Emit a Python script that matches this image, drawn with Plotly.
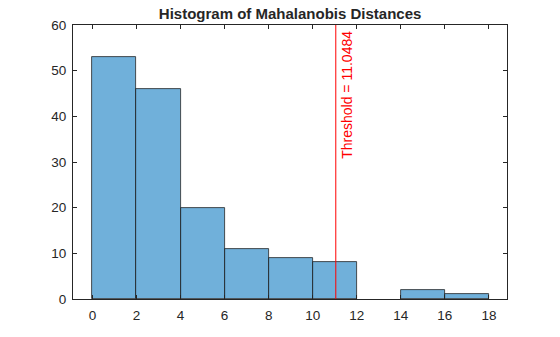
import plotly.graph_objects as go

bin_edges = [0, 2, 4, 6, 8, 10, 12, 14, 16, 18]
counts = [53, 46, 20, 11, 9, 8, 0, 2, 1]
threshold = 11.0484
title = "Histogram of Mahalanobis Distances"
x_ticks = [0, 2, 4, 6, 8, 10, 12, 14, 16, 18]
y_ticks = [0, 10, 20, 30, 40, 50, 60]

centers = [(bin_edges[i] + bin_edges[i + 1]) / 2 for i in range(len(counts))]
widths = [bin_edges[i + 1] - bin_edges[i] for i in range(len(counts))]
edge_w = [0.8 if c > 0 else 0 for c in counts]

axc = "#262626"
fig = go.Figure()
fig.add_trace(go.Bar(
    x=centers, y=counts, width=widths,
    marker=dict(color="rgba(0,114,189,0.56)", line=dict(color=axc, width=edge_w)),
    showlegend=False, hoverinfo="skip",
))
fig.add_shape(type="line", x0=threshold, x1=threshold, y0=0, y1=60,
              xref="x", yref="y", line=dict(color="red", width=1))
fig.add_annotation(x=threshold, y=60, xref="x", yref="y",
                   text="Threshold = %g" % threshold, textangle=-90,
                   showarrow=False, xanchor="left", yanchor="top",
                   xshift=1, yshift=-4,
                   font=dict(color="red", size=14, family="Liberation Sans, Arial"))

fig.update_layout(
    width=560, height=337,
    margin=dict(l=73, r=53, t=25, b=38),
    paper_bgcolor="white", plot_bgcolor="white",
    bargap=0,
    font=dict(family="Liberation Sans, Arial", size=13.5, color=axc),
    title=dict(text="<b>" + title + "</b>", x=0.518, xanchor="center",
               y=0.958, yanchor="middle", font=dict(size=15, color=axc)),
)
fig.update_xaxes(range=[-0.88, 18.82], tickvals=x_ticks, ticks="inside", ticklen=4,
                 tickcolor=axc, showline=True, linecolor=axc, linewidth=1,
                 mirror="allticks", showgrid=False, zeroline=False,
                 ticklabelstandoff=4)
fig.update_yaxes(range=[0, 60], tickvals=y_ticks, ticks="inside", ticklen=4,
                 tickcolor=axc, showline=True, linecolor=axc, linewidth=1,
                 mirror="allticks", showgrid=False, zeroline=False,
                 ticklabelstandoff=3)
fig.write_html("out.html")
